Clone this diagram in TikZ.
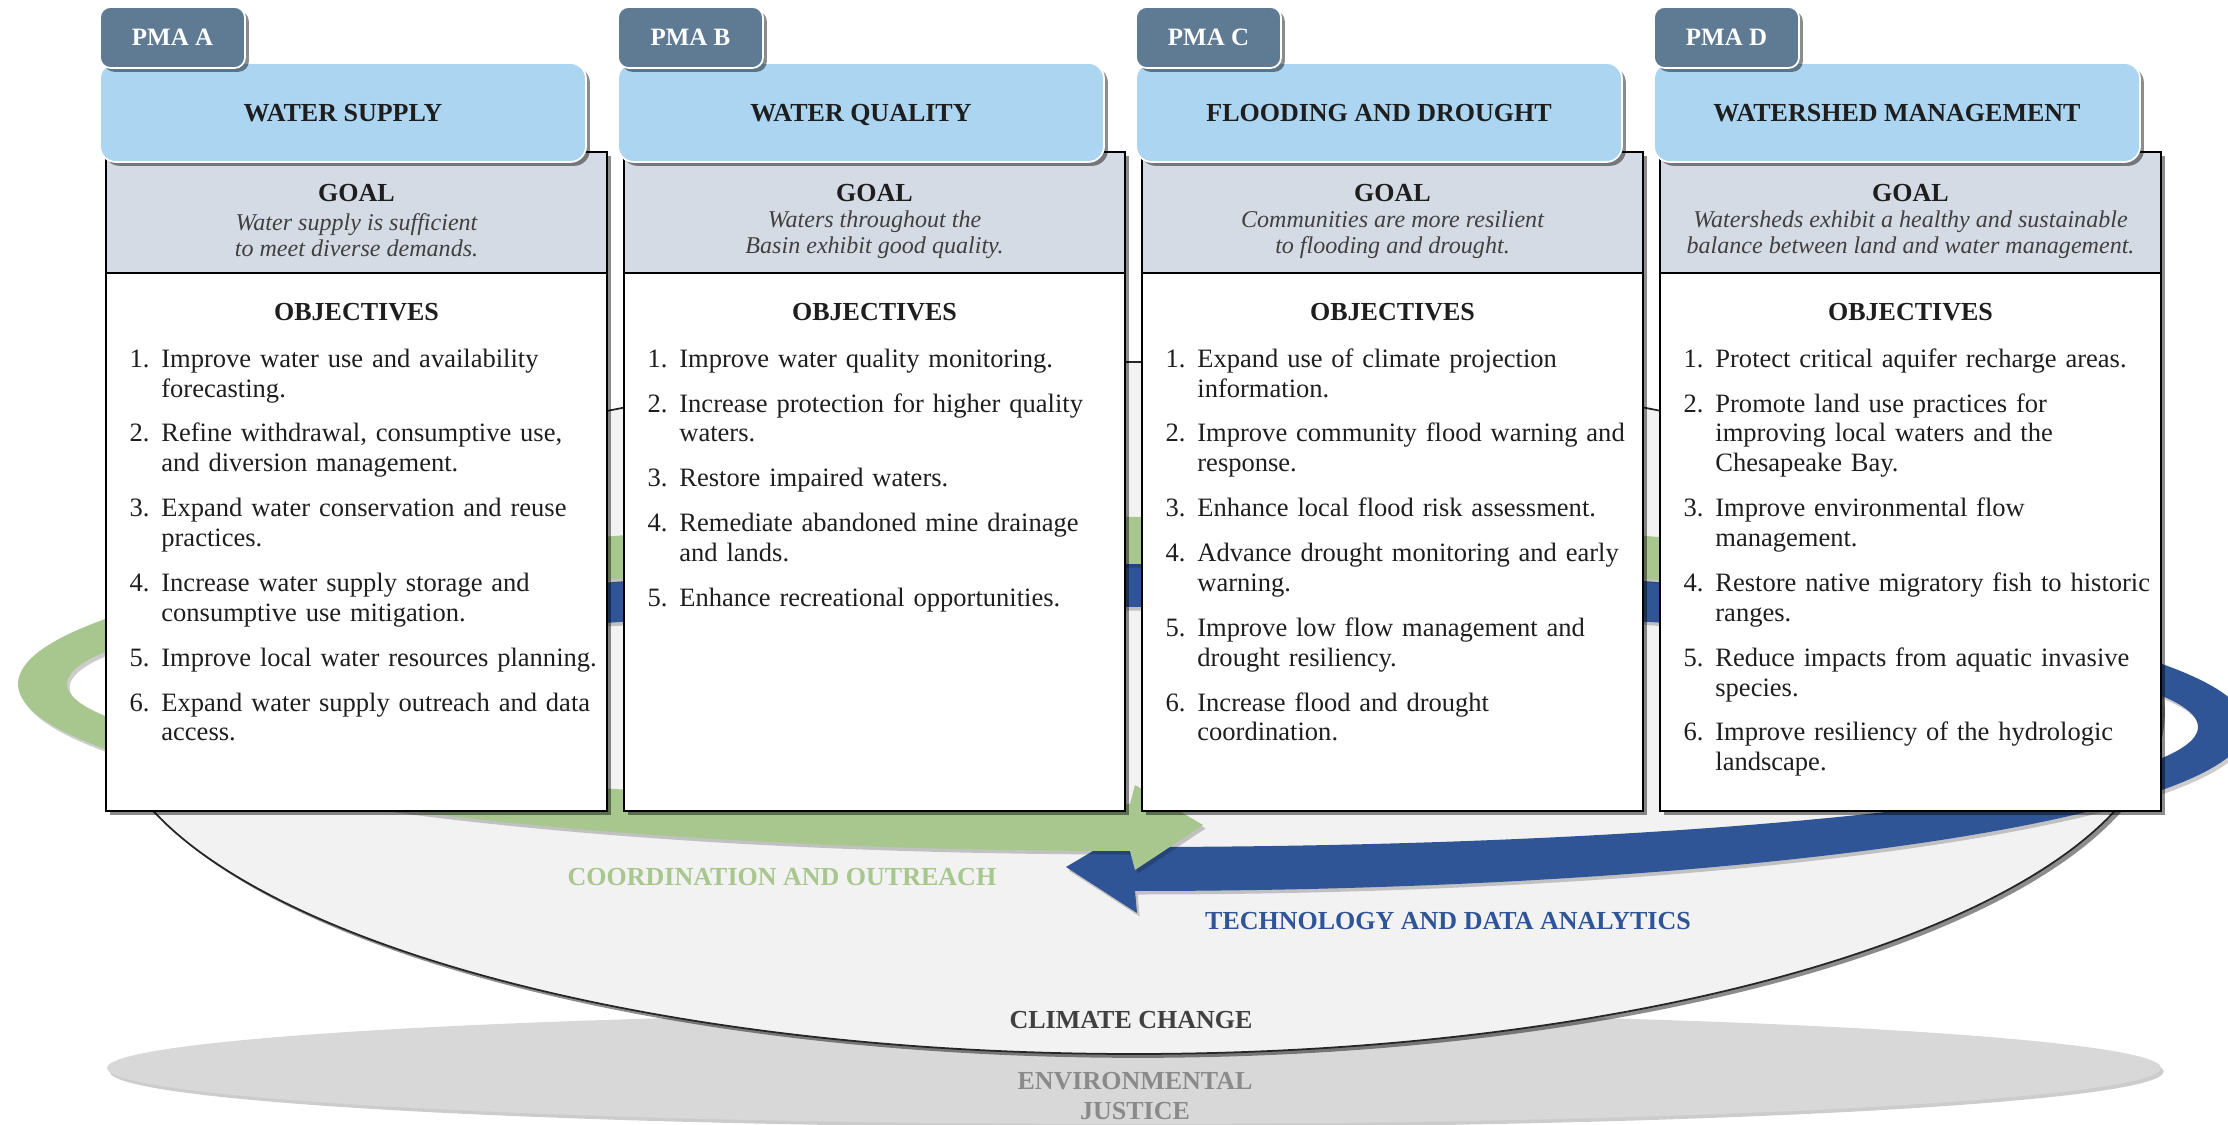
\documentclass[tikz,border=0pt]{standalone}
\usepackage{fontspec}
\setmainfont{Liberation Serif}
\usetikzlibrary{calc,shadows,positioning}
\definecolor{ink}{HTML}{1E1E1E}
\definecolor{slate}{HTML}{5F7B93}
\definecolor{sky}{HTML}{ABD5F1}
\definecolor{mist}{HTML}{D5DBE4}
\definecolor{sage}{HTML}{A8C78E}
\definecolor{navy}{HTML}{2F5597}
\definecolor{bowl}{HTML}{F2F2F2}
\definecolor{stone}{HTML}{D8D8D8}
\definecolor{charcoal}{HTML}{404040}
\definecolor{ash}{HTML}{8A8A8A}

\newcounter{objno}
\newenvironment{objectives}{%
  \begin{list}{\arabic{objno}.}{\usecounter{objno}%
    \setlength{\leftmargin}{18.8pt}\setlength{\labelwidth}{12pt}%
    \setlength{\labelsep}{6.8pt}\setlength{\itemsep}{8.55pt}%
    \setlength{\parsep}{0pt}\setlength{\topsep}{0pt}\setlength{\partopsep}{0pt}%
    \setlength{\itemindent}{0pt}\setlength{\rightmargin}{0pt}}}%
  {\end{list}}

\begin{document}
\begin{tikzpicture}[x=0.02cm,y=0.02cm,text=ink,
    font=\fontsize{15.1}{17}\selectfont,
    boxshadow/.style={drop shadow={shadow xshift=2.2pt,shadow yshift=-2.2pt,opacity=.45,fill=black}},
    ringshadow/.style={drop shadow={shadow xshift=1.5pt,shadow yshift=-2pt,opacity=.2,fill=black}},
    panel/.style={fill=white,draw=black,line width=1.4pt,boxshadow},
    goalband/.style={fill=mist,draw=black,line width=1.4pt},
    pmahead/.style={fill=sky,draw=white,line width=1pt,rounded corners=9pt,boxshadow},
    pmatab/.style={fill=slate,draw=white,line width=1pt,rounded corners=6pt,boxshadow},
    tabtxt/.style={text=white,font=\fontsize{14.2}{16}\selectfont\bfseries},
    headtxt/.style={font=\fontsize{14.8}{17}\selectfont\bfseries},
    titletxt/.style={headtxt,anchor=base},
    goaltxt/.style={align=center,text=charcoal,font=\fontsize{13.7}{14.8}\selectfont\itshape},
    objlist/.style={anchor=north west,inner sep=0pt,text width=9.4cm,align=left},
    banner/.style={font=\fontsize{14.8}{17}\selectfont\bfseries,align=center}]
  \useasboundingbox (0,0) rectangle (2228,1125);
  \clip (0,0) rectangle (2228,1125);
  \fill[white] (0,0) rectangle (2228,1125);

  % base ellipse and climate bowl
  \fill[stone,ringshadow] (1134,57) ellipse[x radius=1027,y radius=56];
  \filldraw[fill=bowl,draw=black!85,line width=1pt,boxshadow] (1134,417) ellipse[x radius=1027,y radius=346];

  % the two rings
  \coordinate (gc) at (1130,441);
  \coordinate (bc) at (1135,398);
  \fill[navy,ringshadow] ($(bc)+(135:1112 and 164)$)
    arc[start angle=135,end angle=-90,x radius=1112,y radius=164]
    -- (1137,212) -- (1066,258) -- (1137,300) -- ($(bc)+(-90:1063 and 120)$)
    arc[start angle=-90,end angle=135,x radius=1063,y radius=120] -- cycle;
  \fill[sage,ringshadow] ($(gc)+(45:1112 and 167)$)
    arc[start angle=45,end angle=270,x radius=1112,y radius=167]
    -- (1135,255) -- (1203,300) -- (1135,340) -- ($(gc)+(270:1063 and 120)$)
    arc[start angle=270,end angle=45,x radius=1063,y radius=120] -- cycle;

  \node[banner,text=sage] (coord) at (782,248) {COORDINATION AND OUTREACH};
  \node[banner,text=navy] (tech) at (1448,204) {TECHNOLOGY AND DATA ANALYTICS};
  \node[banner,text=charcoal] (climate) at (1131,105) {CLIMATE CHANGE};
  \node[banner,text=ash] (justice) at (1135,29) {ENVIRONMENTAL\\JUSTICE};

  % four PMA columns
  \foreach \c/\t in {0/A,1/B,2/C,3/D}{
    \begin{scope}[shift={(518*\c,0)}]
      \draw[panel] (106,314) rectangle (607,973);
      \draw[goalband] (106,852) rectangle (607,973);
      \draw[pmahead] (100,963) rectangle (586,1062);
      \draw[pmatab] (100,1057) rectangle (245,1118);
      \node[tabtxt] (tab\t) at (172.5,1087.5) {PMA \t};
      \node[headtxt] (goal\t) at (356.5,932) {GOAL};
      \node[headtxt] (obj\t) at (356.5,813) {OBJECTIVES};
    \end{scope}
  }

  \begin{scope}
    \node[titletxt] (titleA) at (343,1003.5) {WATER SUPPLY};
    \node[goaltxt] (aimA) at (356.5,890) {Water supply is sufficient\\to meet diverse demands.};
    \node[objlist] (listA) at (128,788) {\begin{objectives}
      \item Improve water use and availability\newline forecasting.
      \item Refine withdrawal, consumptive use,\newline and diversion management.
      \item Expand water conservation and reuse\newline practices.
      \item Increase water supply storage and\newline consumptive use mitigation.
      \item Improve local water resources planning.
      \item Expand water supply outreach and data\newline access.
    \end{objectives}};
  \end{scope}
  \begin{scope}[shift={(518,0)}]
    \node[titletxt] (titleB) at (343,1003.5) {WATER QUALITY};
    \node[goaltxt] (aimB) at (356.5,890) {Waters throughout the\\Basin exhibit good quality.};
    \node[objlist] (listB) at (128,788) {\begin{objectives}
      \item Improve water quality monitoring.
      \item Increase protection for higher quality\newline waters.
      \item Restore impaired waters.
      \item Remediate abandoned mine drainage\newline and lands.
      \item Enhance recreational opportunities.
    \end{objectives}};
  \end{scope}
  \begin{scope}[shift={(1036,0)}]
    \node[titletxt] (titleC) at (343,1003.5) {FLOODING AND DROUGHT};
    \node[goaltxt] (aimC) at (356.5,890) {Communities are more resilient\\to flooding and drought.};
    \node[objlist] (listC) at (128,788) {\begin{objectives}
      \item Expand use of climate projection\newline information.
      \item Improve community flood warning and\newline response.
      \item Enhance local flood risk assessment.
      \item Advance drought monitoring and early\newline warning.
      \item Improve low flow management and\newline drought resiliency.
      \item Increase flood and drought\newline coordination.
    \end{objectives}};
  \end{scope}
  \begin{scope}[shift={(1554,0)}]
    \node[titletxt] (titleD) at (343,1003.5) {WATERSHED MANAGEMENT};
    \node[goaltxt] (aimD) at (356.5,890) {Watersheds exhibit a healthy and sustainable\\balance between land and water management.};
    \node[objlist] (listD) at (128,788) {\begin{objectives}
      \item Protect critical aquifer recharge areas.
      \item Promote land use practices for\newline improving local waters and the\newline Chesapeake Bay.
      \item Improve environmental flow\newline management.
      \item Restore native migratory fish to historic\newline ranges.
      \item Reduce impacts from aquatic invasive\newline species.
      \item Improve resiliency of the hydrologic\newline landscape.
    \end{objectives}};
  \end{scope}
\end{tikzpicture}
\end{document}
